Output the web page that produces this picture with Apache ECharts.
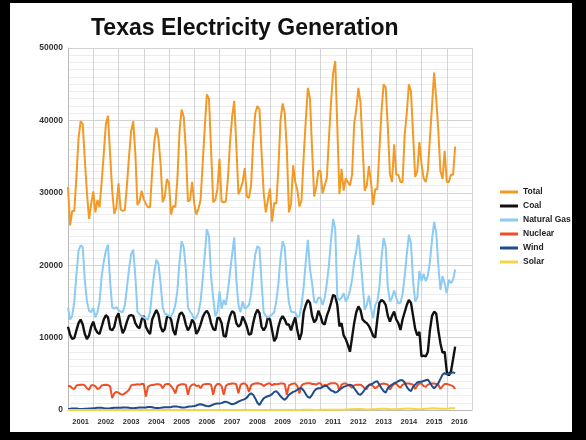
<!DOCTYPE html>
<html>
<head>
<meta charset="utf-8">
<script src="https://cdn.jsdelivr.net/npm/echarts@6/dist/echarts.min.js"></script>
<style>
  html, body { margin: 0; padding: 0; background: #000; }
  #panel { position: absolute; left: 10px; top: 3px; width: 562px; height: 429px; background: #fff; }
  #chart { position: absolute; left: 0; top: 0; width: 586px; height: 440px; }
</style>
</head>
<body>
<div id="panel"></div>
<div id="chart"></div>
<script>
// year labels on the x axis (one band per year)
const years = ['2001', '2002', '2003', '2004', '2005', '2006', '2007', '2008',
  '2009', '2010', '2011', '2012', '2013', '2014', '2015', '2016']

const seriesNames = ['Total', 'Coal', 'Natural Gas', 'Nuclear', 'Wind', 'Solar']

// monthly values, Jan 2001 .. May 2016 (one row per year)
const total = [
  30800, 25500, 27500, 27500, 32200, 37500, 39900, 39500, 34500, 30000, 26400, 28400,
  30200, 27300, 29000, 28000, 31500, 35400, 39500, 40650, 35400, 30300, 27100, 28000,
  31300, 27700, 27500, 27600, 31000, 35000, 38500, 39900, 35400, 28300, 28800, 30300,
  29100, 28500, 28000, 28000, 33000, 37000, 39000, 37500, 34000, 28700, 29500, 31900,
  31300, 27000, 28200, 28000, 32000, 38500, 41500, 40500, 36000, 28800, 29000, 31500,
  28500, 27000, 27800, 29000, 34000, 39000, 43600, 43000, 36000, 28700, 29000, 30500,
  34700, 28800, 28700, 28800, 32000, 37000, 40500, 42700, 36500, 29800, 30500, 31500,
  33400, 29500, 29300, 31000, 37000, 41000, 42000, 41500, 35500, 30000, 27300, 29000,
  30600, 26000, 28600, 28500, 33500, 40000, 42350, 41000, 36000, 27300, 28500, 33800,
  31500, 30400, 28100, 29000, 35000, 40000, 44500, 43000, 36000, 29500, 30800, 33000,
  33000, 29900, 31000, 32000, 37500, 42500, 46500, 48200, 39000, 29800, 33300, 30300,
  32000, 31500, 31000, 32500, 39500, 41500, 44500, 42500, 36500, 30300, 31000, 33700,
  31500, 28300, 30500, 30500, 36000, 41300, 45000, 44500, 39000, 32600, 31500, 36700,
  32500, 32500, 31500, 31500, 38000, 41000, 45000, 44000, 38000, 32200, 33000, 37000,
  34000, 32000, 31500, 33000, 37500, 42000, 46600, 43000, 38500, 33000, 31900, 35800,
  31500, 31500, 32500, 32500, 36400
]

const coal = [
  11500, 10400, 9800, 9950, 11000, 12000, 12500, 11800, 10500, 9800, 10300, 11500,
  12200, 11200, 10700, 10500, 11500, 12500, 13100, 12800, 11200, 11000, 11500, 12800,
  13350, 11800, 10600, 11200, 12200, 13000, 13100, 13000, 12000, 11500, 11300, 12500,
  13000, 11500, 10900, 10500, 12500, 13200, 13800, 13200, 11500, 10800, 11200, 12800,
  13000, 12500, 11000, 10350, 12000, 13200, 13500, 13000, 11800, 11000, 11500, 12500,
  12000, 10500, 11000, 11800, 12800, 13400, 13700, 13200, 12000, 11200, 11000, 12700,
  12700, 12000, 10200, 10150, 11800, 13000, 13650, 13400, 12000, 11500, 11800, 12900,
  12300, 11500, 10400, 10500, 12000, 13200, 13850, 13400, 11500, 11000, 11500, 12800,
  12500, 11000, 9500, 10000, 11500, 12500, 12950, 12500, 11800, 11800, 11000, 12000,
  12800, 11000, 9700, 10600, 13500, 14500, 15200, 14800, 13000, 12100, 12500, 13700,
  13000, 12000, 11800, 13000, 13800, 14800, 15900, 15700, 14500, 11550, 12000, 10300,
  9800, 9000, 8050, 10000, 12000, 13500, 14300, 13800, 12500, 12200, 12000, 11600,
  11000, 10250, 10000, 12500, 14800, 15200, 15000, 14500, 13000, 12200, 13000, 13600,
  12500, 12000, 11050, 12500, 13500, 14500, 15200, 14800, 13000, 11200, 10300, 10800,
  7400, 7500, 7400, 8000, 11000, 13000, 13580, 13300, 11000, 9200, 7900, 8050,
  5340, 4770, 5340, 7000, 8750
]

const naturalGas = [
  14100, 12500, 13000, 15000, 18700, 22000, 22750, 22500, 17900, 15000, 13700, 13500,
  14100, 12800, 13500, 15000, 18500, 20500, 22000, 22840, 17800, 14200, 14000, 14200,
  13800, 13600, 13500, 14500, 16850, 19500, 21500, 22150, 18500, 13600, 13200, 13000,
  12800, 12600, 12500, 13500, 16500, 19000, 20760, 20200, 17500, 14200, 13300, 13200,
  13000, 13000, 13500, 14500, 16500, 20500, 23300, 22500, 19500, 14200, 13600, 13200,
  12500, 12800, 13500, 15000, 18000, 21500, 25000, 24000, 18500, 15500, 13000, 13500,
  16400, 14000, 15200, 14500, 16500, 19000, 21500, 23850, 18000, 14500, 13500, 15000,
  14000, 14200, 14500, 16000, 19000, 21500, 22600, 22400, 17500, 13500, 13000, 12800,
  13000, 13200, 13500, 15000, 17500, 21000, 23300, 22500, 17800, 14800, 13600, 13500,
  13500, 12800, 13000, 14500, 17000, 20500, 23500, 19500, 17500, 15000, 14800, 15500,
  15500, 14500, 15500, 17500, 20000, 23500, 26400, 25000, 15500, 15200, 15500, 16150,
  15000, 15500, 16500, 18000, 20500, 22000, 24200, 21000, 17500, 13850, 14500, 15800,
  14000, 12700, 14500, 15000, 17000, 21000, 23750, 22500, 17000, 15000, 15500, 16500,
  15500, 14700, 14800, 16000, 18500, 21500, 24200, 23000, 17800, 15000, 15500, 19200,
  17800, 18800, 17800, 18500, 20500, 23500, 26000, 24500, 20000, 16600, 18500, 17500,
  16150, 18000, 17500, 18000, 19400
]

const nuclear = [
  3300, 3300, 3000, 2900, 3400, 3450, 3500, 3500, 3400, 3000, 2800, 3400,
  3450, 3300, 2900, 3000, 3400, 3450, 3500, 3450, 3300, 1650, 2300, 2500,
  2400, 2200, 2100, 2300, 2500, 2800, 3400, 3500, 3500, 3550, 3500, 3600,
  3600, 1850, 3200, 3400, 3450, 3500, 3550, 3550, 3500, 3000, 3500, 3600,
  3600, 3300, 2900, 2300, 3300, 3500, 3550, 3550, 3500, 2100, 3200, 3500,
  3550, 3300, 3400, 3000, 3500, 3550, 3600, 3600, 3500, 2100, 3300, 3600,
  3600, 3300, 2100, 3300, 3550, 3600, 3650, 3650, 3550, 2300, 3500, 3650,
  3650, 3400, 2500, 3400, 3600, 3650, 3700, 3650, 3550, 3300, 3500, 3650,
  3650, 3400, 3600, 3550, 3600, 3650, 3650, 3600, 2100, 3400, 3550, 3650,
  3650, 3300, 2300, 3400, 3600, 3650, 3700, 3700, 3600, 3600, 3500, 3700,
  3700, 3200, 3500, 3400, 3600, 3700, 3700, 3700, 3550, 2700, 3500, 3650,
  3650, 3500, 3300, 3100, 3400, 3500, 3500, 3500, 3300, 3000, 2900, 3500,
  3600, 3300, 3000, 3200, 3500, 3600, 3650, 3600, 3500, 2800, 3300, 3600,
  3650, 3300, 3100, 3500, 3600, 3650, 3650, 3600, 3500, 2900, 3400, 3650,
  3650, 3300, 3200, 3500, 3600, 3650, 3650, 3600, 3500, 2900, 3300, 3600,
  3600, 3500, 3400, 3300, 2900
]

const wind = [
  150, 170, 200, 200, 200, 170, 150, 140, 160, 180, 200, 200,
  250, 280, 320, 320, 300, 260, 220, 200, 230, 280, 300, 300,
  300, 320, 350, 360, 340, 300, 260, 240, 280, 320, 330, 330,
  330, 350, 400, 420, 380, 320, 280, 260, 300, 350, 380, 380,
  380, 420, 480, 500, 470, 400, 350, 330, 380, 450, 500, 520,
  560, 620, 750, 800, 720, 620, 550, 520, 620, 750, 850, 900,
  900, 950, 1100, 1150, 1050, 900, 800, 850, 1000, 1150, 1300, 1400,
  1500, 1700, 2100, 2300, 2100, 1600, 1000, 700, 1200, 1600, 1800, 1900,
  2000, 2200, 2500, 2600, 2300, 1900, 1600, 1400, 1700, 2100, 2300, 2500,
  2600, 2800, 3000, 3000, 2700, 2200, 1800, 1700, 2100, 2600, 2900, 3000,
  3000, 3200, 3300, 3300, 3000, 2700, 2600, 2400, 2500, 2800, 3000, 3200,
  3300, 3400, 3500, 3400, 3000, 2600, 2200, 2100, 2400, 2800, 3200, 3400,
  3500, 3700, 3900, 3960, 3500, 3000, 2600, 2400, 3000, 3300, 3500, 3700,
  3800, 4000, 4100, 4100, 3800, 3200, 2800, 2600, 3200, 3500, 3800, 3900,
  3900, 4000, 4100, 4200, 3800, 3300, 3000, 3300, 3700, 4300, 4880, 5100,
  4900, 5000, 5100, 5200, 5100
]

const solar = [
  5, 5, 5, 5, 5, 5, 5, 5, 5, 5, 5, 5,
  5, 5, 5, 5, 5, 5, 5, 5, 5, 5, 5, 5,
  5, 5, 5, 5, 5, 5, 5, 5, 5, 5, 5, 5,
  5, 5, 5, 5, 5, 5, 5, 5, 5, 5, 5, 5,
  5, 5, 5, 5, 5, 5, 5, 5, 5, 5, 5, 5,
  5, 5, 5, 5, 5, 5, 5, 5, 5, 5, 5, 5,
  5, 5, 5, 5, 5, 5, 5, 5, 5, 5, 5, 5,
  5, 5, 5, 5, 5, 5, 5, 5, 5, 5, 5, 5,
  5, 5, 5, 5, 8, 8, 8, 8, 8, 8, 8, 8,
  10, 10, 12, 15, 18, 20, 20, 20, 18, 15, 15, 15,
  20, 25, 30, 40, 45, 50, 50, 50, 45, 40, 35, 35,
  60, 80, 100, 120, 140, 150, 150, 140, 120, 100, 80, 80,
  90, 100, 120, 140, 160, 170, 170, 160, 140, 120, 100, 100,
  110, 120, 140, 160, 180, 190, 190, 180, 160, 140, 120, 120,
  130, 150, 170, 190, 210, 230, 230, 220, 200, 180, 160, 160,
  180, 200, 230, 250, 270
]

const colors = ['#f39a26', '#111111', '#8ccbf3', '#ee4f26', '#1f4d8a', '#f3d54a']
const seriesData = [total, coal, naturalGas, nuclear, wind, solar]

// monthly category slots, Jan 2001 .. Jan 2017
const months = []
years.forEach(y => {
  for (let m = 1; m <= 12; m++) months.push(y + '-' + String(m).padStart(2, '0'))
})
months.push('2017-01')

const chart = echarts.init(document.getElementById('chart'), null, { renderer: 'canvas' })

chart.setOption({
  animation: false,
  title: {
    text: 'Texas Electricity Generation',
    left: 86,
    top: 12,
    textStyle: { fontFamily: 'Liberation Sans', fontSize: 23, fontWeight: 'bold', color: '#111' }
  },
  legend: {
    orient: 'vertical',
    left: 495,
    top: 182,
    icon: 'rect',
    itemWidth: 18,
    itemHeight: 3,
    itemGap: 4,
    data: seriesNames,
    textStyle: { fontFamily: 'Liberation Sans', fontSize: 8.5, fontWeight: 'bold', color: '#222', lineHeight: 10 }
  },
  grid: { left: 68, right: 114, top: 48, bottom: 30 },
  xAxis: {
    type: 'category',
    data: months,
    boundaryGap: false,
    axisLine: { lineStyle: { color: '#bbb' } },
    axisTick: { show: false },
    axisLabel: {
      interval: (i) => i % 12 === 6,
      formatter: (v) => v.slice(0, 4),
      margin: 8,
      fontFamily: 'Liberation Sans',
      fontSize: 7.5,
      fontWeight: 'bold',
      color: '#333'
    },
    splitLine: {
      show: true,
      interval: (i) => i % 12 === 0,
      lineStyle: { color: '#d4d4d4' }
    }
  },
  yAxis: {
    type: 'value',
    min: 0,
    max: 50000,
    interval: 10000,
    axisLine: { show: true, lineStyle: { color: '#bbb' } },
    axisTick: { show: false },
    axisLabel: {
      margin: 5,
      formatter: (v) => String(v),
      fontFamily: 'Liberation Sans',
      fontSize: 8.5,
      fontWeight: 'bold',
      color: '#333'
    },
    splitLine: { lineStyle: { color: '#d4d4d4' } },
    minorTick: { show: false, splitNumber: 10 },
    minorSplitLine: { show: true, lineStyle: { color: '#ececec' } }
  },
  series: seriesNames.map((name, k) => ({
    name,
    type: 'line',
    data: seriesData[k],
    showSymbol: false,
    symbol: 'none',
    color: colors[k],
    lineStyle: { width: k === 1 ? 2.4 : 2, color: colors[k] }
  }))
})
</script>
</body>
</html>
